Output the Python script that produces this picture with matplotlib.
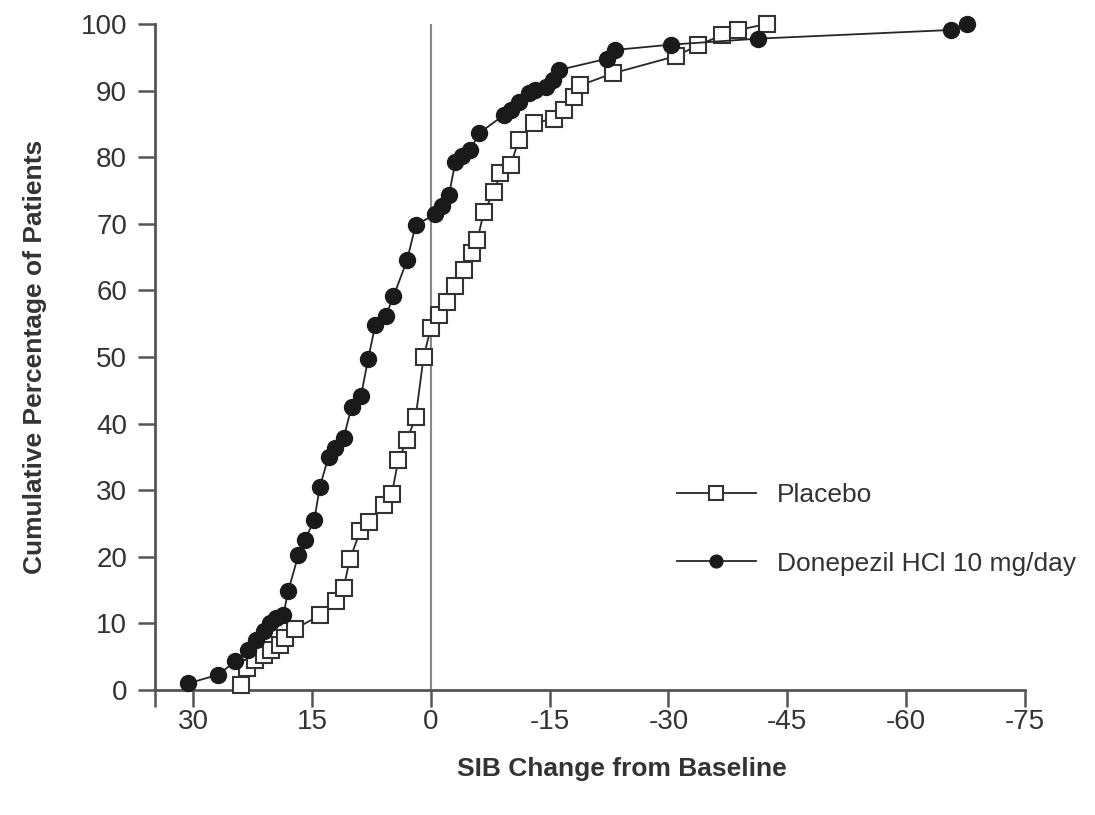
import matplotlib
matplotlib.use("Agg")
import matplotlib.pyplot as plt

plt.rcParams['font.family'] = ['Liberation Sans', 'DejaVu Sans']

# SIB change from baseline (x) and cumulative percentage (y)
placebo_x = [23.9, 23.2, 22.2, 21.1, 20.1, 19.0, 18.4, 17.1, 14.0, 11.9, 11.0, 10.2, 8.9, 7.8,
             5.9, 4.9, 4.1, 3.0, 1.9, 0.9, 0.0, -1.0, -2.1, -3.1, -4.2, -5.2, -5.9, -6.7, -8.0,
             -8.8, -10.1, -11.1, -13.0, -15.6, -16.8, -18.1, -18.9, -23.0, -31.0, -33.7, -36.7,
             -38.8, -42.4]
placebo_y = [0.8, 3.3, 4.5, 5.3, 6.0, 6.8, 7.8, 9.2, 11.2, 13.3, 15.3, 19.7, 23.8, 25.3,
             27.8, 29.5, 34.5, 37.5, 41.0, 50.0, 54.3, 56.3, 58.3, 60.6, 63.1, 65.6, 67.6, 71.8, 74.8,
             77.6, 78.8, 82.6, 85.1, 85.8, 87.1, 89.1, 90.8, 92.6, 95.2, 96.8, 98.3,
             99.1, 100.0]

donepezil_x = [30.6, 26.8, 24.7, 23.0, 22.0, 21.1, 20.3, 19.5, 18.6, 18.0, 16.7, 15.9, 14.7, 14.0,
               12.9, 12.1, 11.0, 10.0, 8.8, 7.9, 7.0, 5.7, 4.7, 3.0, 1.9, -0.5, -1.4, -2.3, -3.1,
               -4.0, -5.0, -6.1, -9.2, -10.1, -11.1, -12.4, -13.2, -14.5, -15.4, -16.2, -22.3,
               -23.2, -30.3, -41.3, -65.6, -67.7]
donepezil_y = [1.0, 2.3, 4.3, 6.0, 7.5, 8.8, 10.0, 10.8, 11.3, 14.8, 20.3, 22.5, 25.5, 30.5,
               35.0, 36.3, 37.8, 42.5, 44.2, 49.7, 54.8, 56.1, 59.1, 64.5, 69.8, 71.4, 72.6, 74.3, 79.3,
               80.2, 81.1, 83.6, 86.3, 87.1, 88.3, 89.6, 90.1, 90.6, 91.6, 93.1, 94.8,
               96.1, 96.9, 97.8, 99.1, 100.0]

x_ticks = [30, 15, 0, -15, -30, -45, -60, -75]
x_ticklabels = ['30', '15', '0', '-15', '-30', '-45', '-60', '-75']
y_ticks = [0, 10, 20, 30, 40, 50, 60, 70, 80, 90, 100]

fig = plt.figure(figsize=(10.95, 8.15), dpi=100)
ax = fig.add_axes([155/1095, 1 - 690/815, (1025-155)/1095, (690-24)/815])

x_left = 34.8
ax.set_xlim(x_left, -75)
ax.set_ylim(0, 100)

ax.axvline(0, color='#888888', lw=1.5, zorder=1)

line_col = '#262626'
ax.plot(placebo_x, placebo_y, color=line_col, lw=1.3, marker='s', markersize=12,
        markerfacecolor='white', markeredgecolor='#333333', markeredgewidth=1.5,
        label='Placebo', clip_on=False, zorder=3)
ax.plot(donepezil_x, donepezil_y, color=line_col, lw=1.3, marker='o', markersize=11.5,
        markerfacecolor='#1a1a1a', markeredgecolor='#1a1a1a',
        label='Donepezil HCl 10 mg/day', clip_on=False, zorder=4)

for s in ['top', 'right']:
    ax.spines[s].set_visible(False)
for s in ['left', 'bottom']:
    ax.spines[s].set_color('#555555')
    ax.spines[s].set_linewidth(2)

ax.set_xticks([x_left] + x_ticks)
ax.set_xticklabels([''] + x_ticklabels)
ax.set_yticks(y_ticks)
ax.tick_params(axis='both', direction='out', length=12, width=1.8, color='#555555',
               labelsize=20, labelcolor='#333333')
ax.tick_params(axis='x', pad=2)
ax.tick_params(axis='y', pad=8)

ax.set_xlabel('SIB Change from Baseline', fontsize=19, fontweight='bold', color='#333333', labelpad=20)
ax.xaxis.set_label_coords((622 - 155) / 870, -0.1)
ax.set_ylabel('Cumulative Percentage of Patients', fontsize=19, fontweight='bold', color='#333333', labelpad=24)

leg = ax.legend(loc='upper left', bbox_to_anchor=(653/1095, 1 - 459/815),
                bbox_transform=fig.transFigure, frameon=False, fontsize=19,
                handlelength=3.0, handletextpad=0.8, labelspacing=1.7, markerscale=0.8)
for t in leg.get_texts():
    t.set_color('#333333')

fig.savefig('out.png', dpi=100)
